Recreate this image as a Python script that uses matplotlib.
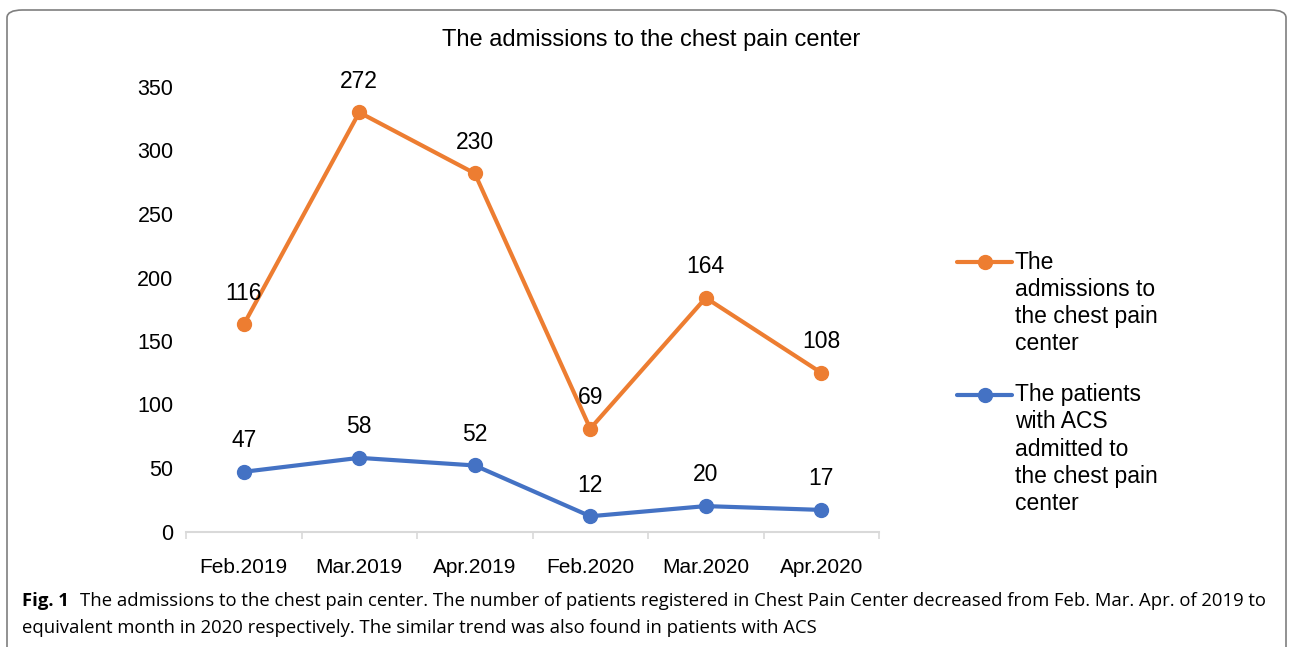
import matplotlib
matplotlib.use("Agg")
import matplotlib.pyplot as plt
from matplotlib.patches import FancyBboxPatch
from matplotlib.lines import Line2D
import numpy as np

categories = ["Feb.2019", "Mar.2019", "Apr.2019", "Feb.2020", "Mar.2020", "Apr.2020"]
admissions = [116, 272, 230, 69, 164, 108]
acs = [47, 58, 52, 12, 20, 17]
yticks = [0, 50, 100, 150, 200, 250, 300, 350]

title = "The admissions to the chest pain center"
legend_adm = ["The", "admissions to", "the chest pain", "center"]
legend_acs = ["The patients", "with ACS", "admitted to", "the chest pain", "center"]
caption_line1 = ("The admissions to the chest pain center. The number of patients registered in Chest Pain Center "
                 "decreased from Feb. Mar. Apr. of 2019 to")
caption_line2 = "equivalent month in 2020 respectively. The similar trend was also found in patients with ACS"

ORANGE = "#ED7D31"
BLUE = "#4472C4"
plt.rcParams['font.family'] = ['Liberation Sans', 'DejaVu Sans']

W, H = 1290, 647
fig = plt.figure(figsize=(W / 100, H / 100), dpi=100)

# outer frame
frame = FancyBboxPatch((7 / W, -20 / H), 1279 / W, (H - 10 + 20) / H,
                       boxstyle="round,pad=0,rounding_size=0.012", transform=fig.transFigure,
                       facecolor="none", edgecolor="#7f7f7f", linewidth=1.2, clip_on=False)
fig.patches.append(frame)

ax = fig.add_axes([186 / W, 1 - 531.5 / H, (879 - 186) / W, (531.5 - 87) / H])
x = np.arange(len(categories))
stacked = np.array(admissions) + np.array(acs)

ax.plot(x, acs, color=BLUE, lw=3, marker="o", ms=10, solid_capstyle="round", zorder=3)
ax.plot(x, stacked, color=ORANGE, lw=3, marker="o", ms=10, solid_capstyle="round", zorder=3)

for xi, yv, lab in zip(x, stacked, admissions):
    ax.annotate(str(lab), (xi, yv), xytext=(0, 22.5), textcoords="offset points",
                ha="center", va="center", fontsize=16.5, clip_on=False)
for xi, yv, lab in zip(x, acs, acs):
    ax.annotate(str(lab), (xi, yv), xytext=(0, 22.5), textcoords="offset points",
                ha="center", va="center", fontsize=16.5, clip_on=False)

ax.set_xlim(-0.5, len(categories) - 0.5)
ax.set_ylim(0, 350)
ax.set_yticks(yticks)
ax.set_yticklabels([str(v) for v in yticks], fontsize=15.5)
ax.set_xticks(x)
ax.set_xticklabels(categories, fontsize=15)
ax.set_xticks(np.arange(-0.5, len(categories), 1.0), minor=True)
ax.tick_params(axis="x", which="major", length=0, pad=19)
ax.tick_params(axis="x", which="minor", length=5, color="#d9d9d9", width=1.2)
ax.tick_params(axis="y", length=0, pad=9)
for s in ["top", "right", "left"]:
    ax.spines[s].set_visible(False)
ax.spines["bottom"].set_color("#d9d9d9")
ax.spines["bottom"].set_linewidth(1.5)
ax.set_facecolor("none")

fig.text(651 / W, 1 - 40 / H, title, ha="center", va="center", fontsize=17)

# manual legend (handle aligned with first text line)
def legend_entry(y0, color, lines):
    fy = 1 - y0 / H
    fig.add_artist(Line2D([957 / W, 1012 / W], [fy, fy], color=color, lw=3,
                          solid_capstyle="round", transform=fig.transFigure))
    fig.add_artist(Line2D([984.5 / W], [fy], color=color, marker="o", ms=10, lw=0,
                          transform=fig.transFigure))
    for i, ln in enumerate(lines):
        fig.text(1015 / W, 1 - (y0 + 27 * i) / H, ln, ha="left", va="center", fontsize=16.5)

legend_entry(262, ORANGE, legend_adm)
legend_entry(395, BLUE, legend_acs)

cap_font = ['Open Sans', 'DejaVu Sans']
fig.text(22 / W, 1 - 601 / H, "Fig. 1", ha="left", va="center", fontsize=13.3,
         fontweight="bold", family=cap_font)
fig.text(80 / W, 1 - 601 / H, caption_line1, ha="left", va="center", fontsize=13.3, family=cap_font)
fig.text(22 / W, 1 - 628 / H, caption_line2, ha="left", va="center", fontsize=13.3, family=cap_font)

fig.savefig("out.png", dpi=100)
